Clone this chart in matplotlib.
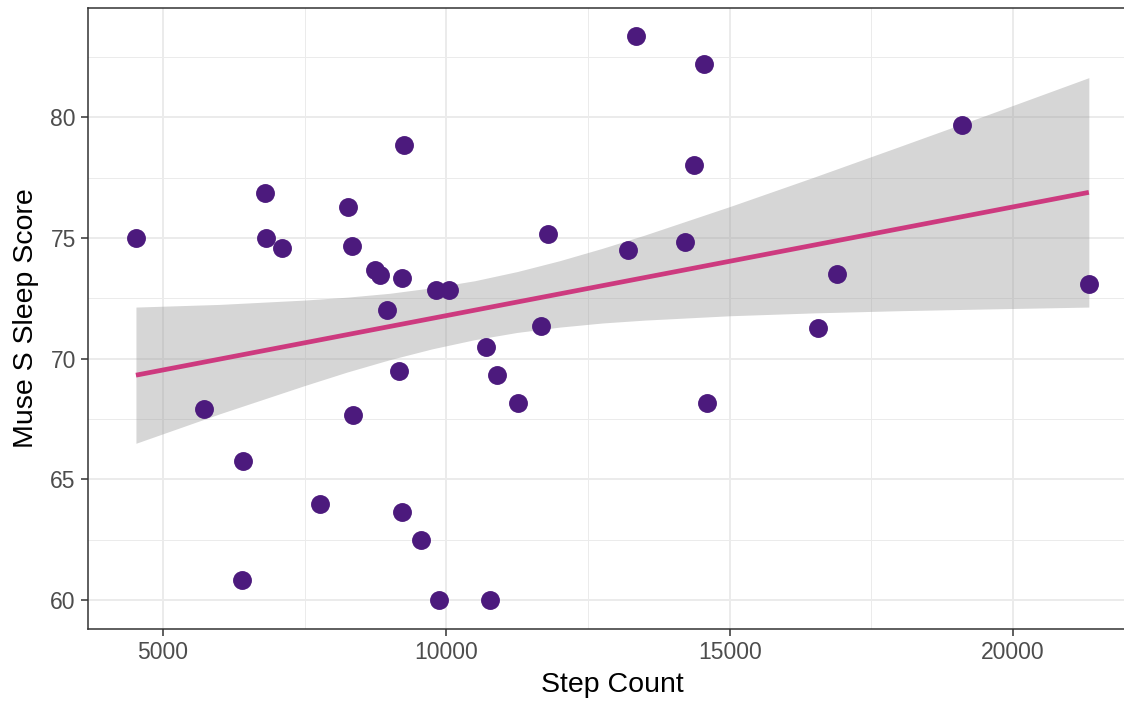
import numpy as np
import matplotlib
matplotlib.use('Agg')
import matplotlib.pyplot as plt
from matplotlib.ticker import MultipleLocator

# daily step count vs Muse S sleep score
steps = [4523, 5724, 6412, 6394, 6800, 6818, 7095, 7766, 8271, 8331,
         8348, 8742, 8830, 8949, 9157, 9213, 9213, 9259, 9559, 9810,
         10048, 9877, 10697, 10890, 10777, 11266, 11677, 11795, 13213, 13348,
         14219, 14377, 14554, 14602, 16566, 16891, 19097, 21339]
sleep_score = [75.0, 67.92, 65.76, 60.83, 76.85, 75.01, 74.60, 64.0, 76.27, 74.67,
               67.67, 73.68, 73.47, 72.02, 69.51, 63.67, 73.36, 78.85, 62.5, 72.85,
               72.85, 60.0, 70.5, 69.34, 60.0, 68.18, 71.35, 75.18, 74.5, 83.35,
               74.85, 78.01, 82.19, 68.18, 71.26, 73.51, 79.68, 73.10]

# linear trend line and its confidence band
trend_steps = [4523, 21339]
trend_score = [69.32, 76.89]
band_steps = [4523, 6000, 7500, 8250, 9000, 9750, 10500, 11250, 12000, 12750,
              13500, 15000, 16500, 18000, 19500, 21339]
band_upper = [72.14, 72.25, 72.43, 72.55, 72.71, 72.94, 73.23, 73.61, 74.06, 74.57,
              75.12, 76.30, 77.53, 78.79, 80.06, 81.64]
band_lower = [66.50, 67.72, 68.89, 69.45, 69.96, 70.41, 70.79, 71.09, 71.31, 71.48,
              71.60, 71.78, 71.90, 71.99, 72.06, 72.14]

plt.rcParams['font.family'] = ['Liberation Sans', 'DejaVu Sans']

fig = plt.figure(figsize=(11.24, 7.02), dpi=100)
W, H = 1124, 702
ax = fig.add_axes([88.3 / W, 1 - 628.5 / H, (1136.5 - 88.3) / W, (628.5 - 8.1) / H])

ax.fill_between(band_steps, band_lower, band_upper, color='#999999', alpha=0.4,
                linewidth=0, zorder=2)
ax.plot(trend_steps, trend_score, color='#CD3A7F', linewidth=3.4,
        solid_capstyle='butt', zorder=3)
ax.scatter(steps, sleep_score, s=185, color='#4C1A7D', linewidths=0, zorder=4)

ax.set_xlim(3682, 22180)
ax.set_ylim(58.83, 84.52)
ax.xaxis.set_major_locator(MultipleLocator(5000))
ax.xaxis.set_minor_locator(MultipleLocator(2500))
ax.yaxis.set_major_locator(MultipleLocator(5))
ax.yaxis.set_minor_locator(MultipleLocator(2.5))

ax.grid(which='major', color='#EBEBEB', linewidth=1.4, zorder=0)
ax.grid(which='minor', color='#EBEBEB', linewidth=0.7, zorder=0)
ax.set_axisbelow(True)

ax.tick_params(which='major', length=5, width=1.1, color='#333333',
               labelsize=16.5, labelcolor='#4D4D4D', pad=4)
ax.tick_params(which='minor', length=0)
for sp in ax.spines.values():
    sp.set_color('#333333')
    sp.set_linewidth(1.1)

ax.set_xlabel('Step Count', fontsize=20.5, color='black', labelpad=6)
ax.set_ylabel('Muse S Sleep Score', fontsize=20.5, color='black', labelpad=8)

fig.savefig('out.png', dpi=100)
